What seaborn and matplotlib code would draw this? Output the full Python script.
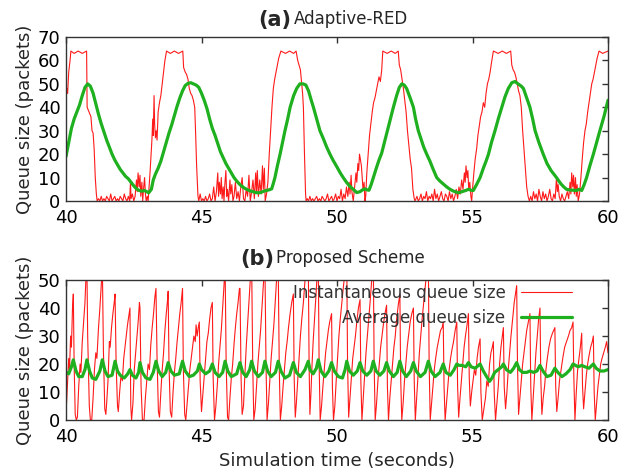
import matplotlib
matplotlib.use("Agg")
import matplotlib.pyplot as plt
import seaborn as sns
import pandas as pd

# ---------------- data ----------------
ared_inst = [
    (40.00, 42), (40.03, 48), (40.06, 46), (40.10, 55), (40.15, 60), (40.18, 64), (40.30, 63), (40.45, 64),
    (40.60, 63), (40.76, 64),
    (40.78, 40), (40.85, 38), (40.92, 36), (40.96, 30), (41.00, 29), (41.04, 22), (41.08, 10),
    (41.12, 3), (41.15, 0), (41.20, 1), (41.25, 0), (41.30, 2), (41.35, 0), (41.40, 1), (41.45, 0),
    (41.50, 2), (41.55, 1), (41.60, 0), (41.65, 3), (41.70, 0), (41.75, 1), (41.80, 2), (41.85, 0),
    (41.90, 1), (41.95, 0), (42.00, 2), (42.05, 1), (42.10, 0), (42.15, 3), (42.20, 1), (42.25, 0),
    (42.30, 2), (42.35, 0), (42.38, 8), (42.40, 1), (42.45, 3), (42.50, 0), (42.55, 2), (42.60, 9),
    (42.63, 4), (42.66, 12), (42.70, 6), (42.73, 11), (42.76, 2), (42.80, 8), (42.83, 0), (42.86, 5),
    (42.90, 10), (42.93, 3), (42.96, 0), (43.00, 2), (43.03, 0), (43.06, 5), (43.10, 12), (43.14, 20),
    (43.17, 26), (43.20, 35), (43.22, 28), (43.25, 45), (43.27, 33), (43.30, 27), (43.33, 30),
    (43.36, 26), (43.40, 38), (43.45, 42), (43.50, 45), (43.55, 50), (43.60, 55), (43.65, 60),
    (43.71, 64), (43.85, 63), (44.00, 64), (44.15, 63), (44.31, 64), (44.34, 57), (44.40, 55), (44.45, 54), (44.50, 52), (44.55, 48),
    (44.60, 46), (44.65, 45), (44.70, 43), (44.75, 40), (44.78, 30), (44.82, 15), (44.87, 2),
    (44.90, 0), (44.95, 3), (45.00, 0), (45.05, 1), (45.10, 0), (45.15, 2), (45.20, 0), (45.25, 1),
    (45.30, 3), (45.35, 0), (45.40, 1), (45.45, 6), (45.50, 0), (45.55, 4), (45.60, 12), (45.63, 2),
    (45.66, 8), (45.70, 3), (45.73, 10), (45.76, 1), (45.80, 6), (45.83, 0), (45.86, 7), (45.90, 13),
    (45.93, 2), (45.96, 5), (46.00, 0), (46.05, 9), (46.08, 3), (46.12, 7), (46.16, 0), (46.20, 2),
    (46.25, 8), (46.30, 1), (46.35, 4), (46.40, 0), (46.45, 6), (46.50, 10), (46.55, 1), (46.60, 0),
    (46.65, 5), (46.70, 2), (46.75, 11), (46.80, 0), (46.85, 4), (46.90, 9), (46.95, 1), (47.00, 12),
    (47.03, 4), (47.06, 13), (47.10, 2), (47.15, 9), (47.20, 3), (47.25, 15), (47.28, 5), (47.32, 14),
    (47.35, 0), (47.40, 3), (47.45, 8), (47.50, 20), (47.55, 30), (47.60, 40), (47.65, 48),
    (47.70, 52), (47.75, 55), (47.80, 58), (47.85, 61), (47.93, 64), (48.10, 63), (48.25, 64), (48.40, 63),
    (48.49, 64), (48.55, 60),
    (48.60, 58), (48.65, 56), (48.70, 50), (48.73, 46), (48.76, 40), (48.80, 20), (48.84, 3),
    (48.86, 0), (48.90, 1), (48.95, 0), (49.00, 2), (49.05, 0), (49.10, 1), (49.15, 0), (49.20, 1),
    (49.25, 2), (49.30, 0), (49.35, 1), (49.40, 0), (49.45, 2), (49.50, 1), (49.55, 0), (49.60, 1),
    (49.65, 3), (49.70, 0), (49.75, 1), (49.80, 2), (49.85, 0), (49.90, 1), (49.95, 3), (50.00, 0),
    (50.05, 2), (50.10, 1), (50.15, 5), (50.20, 0), (50.25, 3), (50.30, 1), (50.35, 6), (50.40, 2),
    (50.45, 8), (50.48, 3), (50.52, 11), (50.55, 4), (50.60, 0), (50.65, 6), (50.70, 12), (50.73, 8),
    (50.77, 16), (50.80, 13), (50.83, 20), (50.86, 18), (50.90, 15), (50.93, 10), (50.96, 5),
    (51.00, 8), (51.03, 0), (51.06, 2), (51.10, 12), (51.15, 20), (51.20, 28), (51.25, 33),
    (51.30, 38), (51.35, 42), (51.40, 44), (51.45, 47), (51.50, 50), (51.55, 53), (51.60, 51),
    (51.65, 56), (51.69, 64), (51.85, 63), (52.00, 64), (52.15, 63), (52.26, 64), (52.30, 58), (52.35, 56), (52.40, 52), (52.45, 48),
    (52.50, 43), (52.55, 38), (52.60, 30), (52.65, 24), (52.70, 18), (52.75, 14), (52.80, 5),
    (52.85, 1), (52.88, 0), (52.95, 2), (53.00, 0), (53.05, 1), (53.10, 3), (53.15, 0), (53.20, 2),
    (53.25, 1), (53.30, 4), (53.35, 0), (53.40, 2), (53.45, 1), (53.50, 3), (53.55, 0), (53.60, 5),
    (53.65, 1), (53.70, 3), (53.75, 0), (53.80, 2), (53.85, 4), (53.90, 1), (53.95, 0), (54.00, 3),
    (54.05, 2), (54.10, 0), (54.15, 4), (54.20, 1), (54.25, 3), (54.30, 0), (54.35, 2), (54.40, 5),
    (54.45, 1), (54.50, 6), (54.55, 3), (54.60, 9), (54.65, 5), (54.70, 12), (54.73, 8), (54.76, 15),
    (54.80, 10), (54.83, 13), (54.86, 5), (54.90, 8), (54.94, 2), (54.97, 0), (55.00, 5), (55.05, 12),
    (55.10, 18), (55.15, 22), (55.20, 28), (55.25, 32), (55.30, 36), (55.35, 38), (55.40, 42),
    (55.45, 40), (55.50, 46), (55.55, 50), (55.60, 52), (55.65, 55), (55.70, 59), (55.77, 64),
    (55.95, 63), (56.10, 64), (56.25, 63),
    (56.41, 64), (56.45, 58), (56.50, 56), (56.55, 55), (56.60, 53), (56.65, 50), (56.70, 47),
    (56.75, 45), (56.80, 40), (56.85, 30), (56.90, 22), (56.95, 14), (57.00, 6), (57.05, 2),
    (57.10, 0), (57.15, 2), (57.20, 0), (57.25, 4), (57.30, 1), (57.35, 3), (57.40, 0), (57.45, 5),
    (57.50, 2), (57.55, 0), (57.60, 4), (57.65, 1), (57.70, 3), (57.75, 0), (57.80, 2), (57.85, 5),
    (57.90, 1), (57.95, 0), (58.00, 3), (58.05, 1), (58.10, 10), (58.13, 4), (58.16, 7), (58.20, 2),
    (58.25, 0), (58.30, 3), (58.35, 1), (58.40, 0), (58.45, 2), (58.50, 4), (58.55, 1), (58.60, 8),
    (58.63, 3), (58.66, 12), (58.70, 6), (58.73, 11), (58.76, 3), (58.80, 10), (58.83, 2), (58.86, 7),
    (58.90, 0), (58.95, 3), (59.00, 10), (59.05, 18), (59.10, 25), (59.15, 30), (59.20, 33),
    (59.25, 38), (59.30, 42), (59.35, 46), (59.40, 50), (59.45, 52), (59.50, 55), (59.55, 58),
    (59.60, 61), (59.67, 64), (59.80, 63), (60.00, 64),
]

ared_avg = [
    (40.0, 19), (40.1, 25), (40.2, 31), (40.3, 35), (40.4, 38), (40.5, 41), (40.6, 45), (40.7, 48.5),
    (40.8, 50), (40.9, 49), (41.0, 46), (41.1, 41.5), (41.2, 37), (41.3, 33), (41.4, 29.5), (41.5, 26),
    (41.6, 23), (41.7, 20), (41.8, 17.5), (41.9, 15.5), (42.0, 13.5), (42.1, 12), (42.2, 10.5),
    (42.3, 9.5), (42.4, 8), (42.5, 6.5), (42.6, 5.2), (42.7, 4.5), (42.8, 4.2), (42.9, 4.5), (43.0, 3.8),
    (43.05, 3.5), (43.15, 5), (43.22, 9), (43.3, 11.5), (43.4, 14), (43.5, 17), (43.6, 21), (43.7, 25),
    (43.8, 29), (43.9, 32.5), (44.0, 36.5), (44.1, 40.5), (44.2, 44), (44.3, 47), (44.4, 49.3),
    (44.5, 50.2), (44.6, 50.5), (44.7, 50), (44.8, 49.5), (44.9, 48.5), (45.0, 46), (45.1, 43),
    (45.2, 39.5), (45.3, 35), (45.4, 31), (45.5, 28), (45.6, 24.5), (45.7, 21), (45.8, 18.5),
    (45.9, 16), (46.0, 14), (46.1, 12), (46.2, 10), (46.3, 8.5), (46.4, 7.2), (46.5, 6.2), (46.6, 5.4),
    (46.7, 4.8), (46.8, 4.3), (46.9, 4), (47.0, 3.6), (47.1, 3.5), (47.2, 3.7), (47.3, 4.2), (47.4, 4.5),
    (47.5, 4.8), (47.59, 5.2), (47.65, 7.5), (47.71, 10), (47.8, 15), (47.9, 20), (48.0, 25.5),
    (48.08, 30), (48.18, 35), (48.27, 40), (48.4, 45), (48.51, 48), (48.63, 50), (48.75, 50),
    (48.85, 49.5), (48.95, 47), (49.05, 43), (49.13, 40), (49.25, 35), (49.37, 30), (49.5, 26.5),
    (49.62, 23), (49.74, 20), (49.85, 17.5), (50.0, 14.5), (50.12, 12), (50.23, 10), (50.35, 8),
    (50.48, 6.2), (50.6, 5), (50.73, 3.6), (50.85, 4), (50.95, 4.8), (51.03, 5.2), (51.1, 4.8),
    (51.18, 4.6), (51.26, 7), (51.34, 10), (51.45, 14), (51.55, 17.5), (51.65, 20.5), (51.75, 25),
    (51.86, 30), (51.97, 35), (52.08, 40), (52.2, 45), (52.3, 48.5), (52.39, 50), (52.48, 49.5),
    (52.57, 48), (52.7, 44), (52.82, 40), (52.9, 35), (53.0, 30), (53.1, 26.5), (53.2, 23),
    (53.31, 20), (53.43, 17), (53.55, 13.5), (53.68, 10), (53.8, 8.5), (53.95, 7), (54.05, 6),
    (54.17, 5), (54.3, 4.2), (54.48, 3.5), (54.62, 4), (54.75, 4.5), (54.85, 5), (54.95, 4.6),
    (55.03, 4.5), (55.15, 7), (55.28, 10), (55.4, 14), (55.5, 17), (55.59, 20), (55.7, 25),
    (55.83, 30), (55.95, 35), (56.08, 40), (56.2, 44.5), (56.32, 48), (56.45, 50.5), (56.57, 51),
    (56.68, 50), (56.8, 49), (56.88, 48), (57.0, 44), (57.12, 40), (57.22, 35), (57.31, 30),
    (57.45, 25), (57.61, 20), (57.75, 16), (57.9, 13), (58.1, 10), (58.25, 7.5), (58.37, 6),
    (58.47, 5), (58.6, 4.7), (58.72, 4.6), (58.84, 4.5), (58.93, 5), (59.03, 4.5), (59.12, 7),
    (59.21, 10), (59.33, 15), (59.46, 20), (59.58, 25), (59.7, 30), (59.85, 36), (60.0, 43),
]

prop_inst = [
    (40.00, 17), (40.02, 6), (40.06, 14), (40.10, 22), (40.13, 18), (40.17, 30), (40.20, 26),
    (40.24, 40), (40.27, 45), (40.30, 20), (40.34, 2), (40.38, 0), (40.42, 1), (40.47, 12),
    (40.52, 20), (40.55, 17), (40.60, 28), (40.65, 35), (40.70, 42), (40.74, 52), (40.77, 56),
    (40.80, 30), (40.86, 5), (40.90, 0), (40.95, 0), (41.00, 8), (41.05, 18), (41.10, 24),
    (41.14, 22), (41.20, 33), (41.25, 40), (41.30, 48), (41.34, 56), (41.38, 25), (41.43, 4),
    (41.47, 2), (41.50, 6), (41.55, 14), (41.60, 28), (41.63, 26), (41.68, 33), (41.73, 38),
    (41.78, 42), (41.81, 45), (41.85, 20), (41.90, 5), (41.93, 3), (41.98, 10), (42.03, 16),
    (42.08, 14), (42.13, 22), (42.20, 28), (42.27, 34), (42.33, 38), (42.36, 40), (42.39, 5),
    (42.42, 0), (42.47, 6), (42.52, 18), (42.57, 24), (42.62, 30), (42.67, 36), (42.71, 42),
    (42.73, 40), (42.77, 12), (42.82, 0), (42.88, 0), (42.93, 8), (42.98, 14), (43.03, 20),
    (43.08, 18), (43.13, 27), (43.18, 33), (43.23, 38), (43.28, 44), (43.32, 47), (43.36, 22),
    (43.41, 3), (43.45, 1), (43.50, 10), (43.55, 18), (43.60, 24), (43.65, 32), (43.70, 38),
    (43.74, 42), (43.77, 46), (43.80, 20), (43.85, 3), (43.90, 1), (43.95, 10), (44.00, 17),
    (44.05, 22), (44.10, 28), (44.15, 33), (44.20, 38), (44.25, 42), (44.30, 47), (44.33, 18),
    (44.38, 2), (44.42, 0), (44.47, 6), (44.52, 12), (44.57, 18), (44.62, 22), (44.67, 26),
    (44.72, 30), (44.77, 28), (44.80, 34), (44.84, 30), (44.88, 33), (44.92, 35), (44.95, 14),
    (45.00, 3), (45.04, 8), (45.10, 15), (45.15, 22), (45.20, 28), (45.25, 31), (45.30, 36),
    (45.35, 40), (45.40, 42), (45.43, 15), (45.48, 0), (45.53, 5), (45.58, 12), (45.63, 20),
    (45.68, 26), (45.73, 32), (45.78, 40), (45.83, 48), (45.87, 56), (45.91, 20), (45.96, 1),
    (46.00, 0), (46.05, 8), (46.10, 15), (46.15, 20), (46.20, 27), (46.25, 33), (46.30, 38),
    (46.35, 42), (46.40, 47), (46.42, 47), (46.46, 15), (46.50, 2), (46.55, 5), (46.60, 16),
    (46.65, 26), (46.70, 34), (46.75, 42), (46.80, 50), (46.85, 56), (46.89, 20), (46.93, 0),
    (46.98, 4), (47.03, 12), (47.08, 20), (47.13, 26), (47.18, 32), (47.23, 40), (47.28, 48),
    (47.34, 56), (47.38, 20), (47.42, 0), (47.47, 6), (47.52, 14), (47.57, 22), (47.62, 28),
    (47.67, 34), (47.72, 42), (47.77, 50), (47.83, 56), (47.87, 18), (47.91, 0), (47.96, 5),
    (48.01, 12), (48.06, 18), (48.11, 24), (48.16, 28), (48.21, 33), (48.27, 38), (48.33, 42),
    (48.39, 45), (48.42, 15), (48.46, 1), (48.50, 6), (48.55, 14), (48.60, 22), (48.65, 30),
    (48.70, 36), (48.76, 42), (48.82, 50), (48.88, 56), (48.94, 58), (48.97, 20), (49.00, 2),
    (49.04, 10), (49.08, 20), (49.12, 28), (49.17, 36), (49.22, 44), (49.27, 52), (49.31, 56),
    (49.34, 20), (49.38, 0), (49.43, 5), (49.48, 12), (49.53, 18), (49.58, 24), (49.63, 28),
    (49.68, 32), (49.73, 35), (49.80, 38), (49.83, 12), (49.87, 0), (49.92, 5), (49.97, 14),
    (50.02, 22), (50.07, 30), (50.12, 36), (50.18, 42), (50.24, 48), (50.30, 53), (50.36, 57),
    (50.39, 20), (50.43, 1), (50.48, 8), (50.53, 15), (50.58, 22), (50.63, 26), (50.68, 30),
    (50.73, 35), (50.79, 40), (50.85, 43), (50.88, 14), (50.92, 0), (50.97, 8), (51.02, 16),
    (51.07, 24), (51.12, 30), (51.17, 36), (51.22, 42), (51.28, 50), (51.34, 56), (51.37, 20),
    (51.41, 0), (51.46, 6), (51.51, 14), (51.56, 20), (51.61, 26), (51.66, 30), (51.71, 34),
    (51.77, 38), (51.83, 41), (51.86, 12), (51.90, 0), (51.95, 8), (52.00, 14), (52.05, 20),
    (52.10, 26), (52.15, 30), (52.20, 36), (52.26, 41), (52.32, 45), (52.35, 15), (52.39, 0),
    (52.44, 6), (52.49, 14), (52.54, 20), (52.59, 26), (52.64, 30), (52.70, 35), (52.76, 38),
    (52.82, 40), (52.85, 14), (52.89, 0), (52.94, 8), (52.99, 16), (53.04, 24), (53.09, 30),
    (53.14, 36), (53.20, 42), (53.26, 48), (53.32, 54), (53.37, 57), (53.40, 20), (53.44, 0),
    (53.49, 6), (53.54, 12), (53.59, 18), (53.64, 22), (53.70, 26), (53.76, 29), (53.82, 32),
    (53.88, 33), (53.92, 35), (53.95, 12), (53.99, 0), (54.04, 6), (54.09, 12), (54.14, 18),
    (54.19, 22), (54.24, 25), (54.30, 28), (54.36, 32), (54.42, 35), (54.45, 12), (54.49, 1),
    (54.54, 8), (54.59, 14), (54.64, 20), (54.69, 26), (54.74, 30), (54.80, 34), (54.85, 38),
    (54.88, 15), (54.92, 5), (54.97, 10), (55.02, 14), (55.07, 18), (55.12, 16), (55.17, 22),
    (55.22, 26), (55.28, 29), (55.31, 10), (55.36, 0), (55.42, 4), (55.48, 8), (55.53, 14),
    (55.58, 12), (55.63, 20), (55.68, 24), (55.73, 26), (55.77, 28), (55.80, 10), (55.85, 0),
    (55.90, 6), (55.95, 12), (56.00, 20), (56.05, 26), (56.10, 30), (56.14, 33), (56.17, 12),
    (56.22, 4), (56.27, 10), (56.32, 18), (56.37, 24), (56.42, 30), (56.48, 36), (56.54, 42),
    (56.60, 46), (56.63, 48), (56.66, 20), (56.70, 2), (56.75, 8), (56.80, 14), (56.85, 20),
    (56.90, 24), (56.95, 28), (57.00, 32), (57.06, 35), (57.12, 38), (57.15, 12), (57.19, 0),
    (57.24, 8), (57.29, 16), (57.34, 24), (57.39, 30), (57.44, 36), (57.49, 40), (57.52, 15),
    (57.56, 2), (57.61, 8), (57.66, 12), (57.71, 18), (57.76, 22), (57.82, 26), (57.88, 29),
    (57.95, 31), (58.04, 33), (58.07, 12), (58.11, 3), (58.16, 8), (58.21, 14), (58.27, 18),
    (58.33, 22), (58.40, 26), (58.47, 28), (58.54, 30), (58.60, 32), (58.66, 33), (58.71, 35),
    (58.74, 15), (58.78, 0), (58.83, 10), (58.88, 18), (58.93, 22), (58.98, 26), (59.03, 31),
    (59.06, 12), (59.10, 4), (59.15, 10), (59.20, 16), (59.25, 20), (59.30, 23), (59.36, 26),
    (59.42, 28), (59.46, 30), (59.49, 10), (59.53, 0), (59.58, 6), (59.63, 12), (59.68, 16),
    (59.73, 20), (59.78, 22), (59.84, 24), (59.90, 26), (59.95, 28), (60.00, 24),
]

prop_avg = [
    (40.0, 17), (40.1, 16.5), (40.2, 19), (40.27, 21.5), (40.37, 17.5), (40.47, 15.5), (40.6, 15.5),
    (40.7, 18), (40.77, 21.5), (40.87, 17.5), (40.97, 15), (41.1, 14.5), (41.25, 17.5), (41.34, 21.5),
    (41.44, 17.5), (41.55, 15.5), (41.7, 16), (41.81, 21), (41.9, 17.5), (42.0, 16), (42.15, 15),
    (42.28, 16.5), (42.36, 18), (42.45, 16), (42.58, 15), (42.68, 17), (42.73, 20.5), (42.82, 17),
    (42.95, 15), (43.1, 14.5), (43.22, 17), (43.32, 21), (43.42, 17.5), (43.55, 15.5), (43.68, 17),
    (43.77, 20.5), (43.87, 17.5), (44.0, 16), (44.18, 16.5), (44.3, 21), (44.4, 17.5), (44.55, 15.5),
    (44.7, 16), (44.85, 17.5), (44.92, 20), (45.0, 18), (45.15, 16.5), (45.3, 17.5), (45.4, 20),
    (45.5, 17), (45.65, 15.5), (45.78, 17), (45.87, 21), (45.97, 17.5), (46.1, 15.5), (46.3, 16.5),
    (46.42, 20.5), (46.52, 17), (46.65, 15.5), (46.78, 18), (46.85, 21), (46.95, 17.5), (47.1, 15.5),
    (47.25, 17), (47.34, 21), (47.44, 17.5), (47.57, 15.5), (47.73, 17), (47.83, 21), (47.93, 17.5),
    (48.08, 15), (48.25, 16), (48.39, 20.5), (48.5, 17), (48.65, 15.5), (48.82, 18), (48.94, 21),
    (49.0, 18), (49.12, 16.5), (49.24, 18.5), (49.31, 21.5), (49.41, 17.5), (49.55, 15.5),
    (49.7, 17.5), (49.8, 20.5), (49.9, 17.5), (50.05, 15.5), (50.2, 15), (50.3, 18), (50.36, 21),
    (50.46, 17.5), (50.6, 16), (50.75, 17.5), (50.85, 20.5), (50.95, 17.5), (51.1, 16),
    (51.25, 17.5), (51.34, 21), (51.44, 17.5), (51.58, 16), (51.73, 17.5), (51.83, 20.5),
    (51.93, 17.5), (52.08, 15.5), (52.22, 17), (52.32, 21), (52.42, 17.5), (52.56, 15.5),
    (52.72, 17.5), (52.82, 20.5), (52.92, 17.5), (53.08, 15.5), (53.25, 17), (53.37, 21),
    (53.47, 17.5), (53.62, 15.5), (53.8, 17), (53.92, 20), (54.02, 17), (54.18, 16), (54.32, 18),
    (54.42, 20), (54.5, 19.5), (54.62, 19.5), (54.75, 19), (54.85, 20.5), (54.95, 19), (55.1, 18.5),
    (55.28, 20), (55.4, 17.5), (55.55, 15), (55.63, 13.8), (55.72, 15), (55.82, 17), (55.95, 18),
    (56.08, 19), (56.14, 20), (56.25, 18), (56.4, 17), (56.52, 18.5), (56.63, 20.5), (56.73, 18),
    (56.85, 17), (57.0, 17), (57.12, 17.5), (57.25, 17), (57.38, 17.5), (57.49, 19.5), (57.6, 17.5),
    (57.75, 15.5), (57.9, 16), (58.04, 18.5), (58.15, 17), (58.3, 15.5), (58.45, 16.5), (58.6, 18),
    (58.71, 20), (58.8, 19.5), (58.9, 19), (59.03, 19.5), (59.15, 19), (59.3, 18.5), (59.46, 20),
    (59.56, 18.5), (59.7, 17.5), (59.85, 17.5), (60.0, 18),
]

x_ticks = [40, 45, 50, 55, 60]
y_ticks_top = [0, 10, 20, 30, 40, 50, 60, 70]
y_ticks_bot = [0, 10, 20, 30, 40, 50]
label_inst = "Instantaneous queue size"
label_avg = "Average queue size"

# ---------------- styling ----------------
sns.set_style("white")
plt.rcParams["font.family"] = ["DejaVu Sans"]

RED = "#ff1a1a"
GREEN = "#1fb01f"
FS = 13


def frame(pairs):
    return pd.DataFrame(pairs, columns=["t", "q"])


fig = plt.figure(figsize=(6.25, 4.75), dpi=100)
ax1 = fig.add_axes([0.1056, 0.5768, 0.8672, 0.3453])
ax2 = fig.add_axes([0.1056, 0.1158, 0.8672, 0.2947])

for ax, inst, avg, yt in [(ax1, ared_inst, ared_avg, y_ticks_top),
                          (ax2, prop_inst, prop_avg, y_ticks_bot)]:
    sns.lineplot(data=frame(inst), x="t", y="q", ax=ax, color=RED, lw=0.8,
                 estimator=None, label=label_inst)
    sns.lineplot(data=frame(avg), x="t", y="q", ax=ax, color=GREEN, lw=2.3,
                 estimator=None, label=label_avg)
    ax.set_xlim(x_ticks[0], x_ticks[-1])
    ax.set_ylim(yt[0], yt[-1])
    ax.set_xticks(x_ticks)
    ax.set_yticks(yt)
    ax.tick_params(direction="in", length=4.5, width=1, top=True, right=True,
                   labelsize=FS, colors="#333333", labelcolor="black")
    ax.tick_params(axis="y", pad=4)
    ax.tick_params(axis="x", pad=6)
    for s in ax.spines.values():
        s.set_color("#333333")
        s.set_linewidth(1.0)
    ax.set_xlabel("")
    ax.set_ylabel("Queue size (packets)", fontsize=FS, labelpad=3)

ax1.get_legend().remove()

leg = ax2.legend(loc="upper right", bbox_to_anchor=(0.934, 0.97), frameon=False,
                 markerfirst=False, fontsize=12, handlelength=3.1,
                 borderaxespad=0, borderpad=0, labelspacing=0.4, handletextpad=0.9)
for t in leg.get_texts():
    t.set_color("#333333")

ax2.set_xlabel("Simulation time (seconds)", fontsize=FS, labelpad=4)

# titles
fig.text(0.466, 0.958, "(a)", fontsize=15, fontweight="bold", ha="right", va="center")
fig.text(0.470, 0.960, "Adaptive-RED", fontsize=12, ha="left", va="center")
fig.text(0.438, 0.455, "(b)", fontsize=15, fontweight="bold", ha="right", va="center")
fig.text(0.442, 0.457, "Proposed Scheme", fontsize=12, ha="left", va="center")

fig.savefig("out.png", dpi=100)
